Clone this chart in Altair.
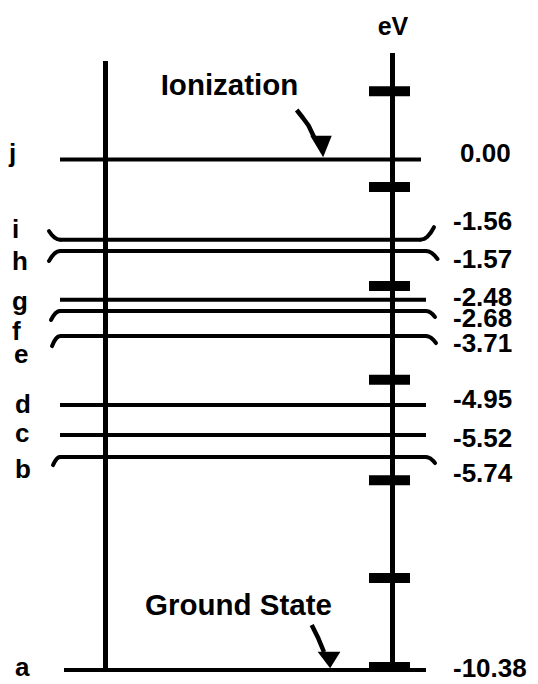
import altair as alt
import pandas as pd

# ---------------- data ----------------
levels = ["a", "b", "c", "d", "e", "f", "g", "h", "i", "j"]
energies_ev = [-10.38, -5.74, -5.52, -4.95, -3.71, -2.68, -2.48, -1.57, -1.56, 0.00]
# vertical placement of each level in the schematic diagram (eV-like diagram units)
level_height = [-10.38, -6.05, -5.60, -4.99, -3.59, -3.08, -2.85, -1.86, -1.63, 0.00]
# heights of the tick bars on the eV axis (diagram units)
tick_height = [1.39, -0.56, -2.57, -4.48, -6.52, -8.51, -10.32]
annotations = ["Ionization", "Ground State", "eV"]

# ---------------- layout ----------------
W, H = 522, 676
PX = 49.18          # pixels per diagram unit
ZERO_Y = 159.5      # page y of the 0.00 level


def units(page_y):
    return (ZERO_Y - page_y) / PX


LINE_X0 = {"a": 64}
LINE_X1 = {"j": 421, "i": 421}
VALUE_X = {"j": 460}
LETTER_X = {"j": 9, "i": 12, "h": 12, "g": 12, "f": 12, "e": 14}
VALUE_DY = {"j": 2.5, "i": -9.5, "h": 17, "g": 6.5, "f": 16, "e": 16,
            "d": 3, "c": 12, "b": 25, "a": 7}
LETTER_DY = {"j": 2.5, "i": -1.5, "h": 19, "g": 10.5, "f": 29, "e": 27,
             "d": 8, "c": 7, "b": 21, "a": 6.5}
BRACKETS = {("i", "L"): (-11, -8.5), ("i", "R"): (13, -12.5),
            ("h", "L"): (-11, 10), ("h", "R"): (11.5, 8),
            ("f", "L"): (-9, 9), ("f", "R"): (9, 6),
            ("e", "L"): (-8, 10), ("e", "R"): (10, 7),
            ("b", "L"): (-7, 8), ("b", "R"): (9, 6)}

FONT = "Liberation Sans"

xs = alt.Scale(domain=[8, 8 + W], nice=False, zero=False)
ys = alt.Scale(domain=[units(8 + H), units(8)], nice=False, zero=False)

lev = pd.DataFrame({"level": levels, "energy": energies_ev, "h": level_height})
lev["x0"] = [LINE_X0.get(l, 60) for l in levels]
lev["x1"] = [LINE_X1.get(l, 426) for l in levels]
lev["label"] = [f"{e:.2f}" for e in energies_ev]
lev["vx"] = [VALUE_X.get(l, 453) for l in levels]
lev["vy"] = [h - VALUE_DY[l] / PX for l, h in zip(levels, level_height)]
lev["lx"] = [LETTER_X.get(l, 15) for l in levels]
lev["ly"] = [h - LETTER_DY[l] / PX for l, h in zip(levels, level_height)]

rows = []
for (lv, side), (dx, dy) in BRACKETS.items():
    i = levels.index(lv)
    ax = lev.loc[i, "x0"] if side == "L" else lev.loc[i, "x1"]
    hh = level_height[i]
    for k, t in enumerate([0, 0.25, 0.5, 0.75, 1.0]):
        rows.append({"id": lv + side, "k": k, "x": ax + dx * t, "y": hh - dy * t * t / PX})
br = pd.DataFrame(rows)

base_x = lambda f: alt.X(f, type="quantitative", scale=xs, axis=None)
base_y = lambda f: alt.Y(f, type="quantitative", scale=ys, axis=None)

level_lines = alt.Chart(lev).mark_rule(strokeWidth=4, color="black").encode(
    x=base_x("x0"), x2="x1", y=base_y("h"))

brackets = alt.Chart(br).mark_line(strokeWidth=4, color="black", strokeCap="round",
                                   strokeJoin="round").encode(
    x=base_x("x"), y=base_y("y"), detail="id:N", order="k:Q")

frame = pd.DataFrame({"x": [105.5, 392.5], "top": [units(61), units(53)],
                      "bottom": [level_height[0], level_height[0]]})
verticals = alt.Chart(frame).mark_rule(strokeWidth=5, color="black").encode(
    x=base_x("x"), y=base_y("top"), y2="bottom")

tk = pd.DataFrame({"h": tick_height})
tk["x0"] = 369
tk["x1"] = 410
ticks = alt.Chart(tk).mark_rule(strokeWidth=10, color="black").encode(
    x=base_x("x0"), x2="x1", y=base_y("h"))

value_text = alt.Chart(lev).mark_text(font=FONT, fontWeight="bold", fontSize=26,
                                      align="left", baseline="alphabetic",
                                      color="black").encode(
    x=base_x("vx"), y=base_y("vy"), text="label:N")

letter_text = alt.Chart(lev).mark_text(font=FONT, fontWeight="bold", fontSize=26,
                                       align="left", baseline="alphabetic",
                                       color="black").encode(
    x=base_x("lx"), y=base_y("ly"), text="level:N")

ann = pd.DataFrame({"text": annotations, "x": [229.5, 238.5, 393],
                    "y": [units(95), units(615), units(35)], "size": [29.5, 29.5, 25]})
ann_text = alt.Chart(ann).mark_text(font=FONT, fontWeight="bold", align="center",
                                    baseline="alphabetic", color="black").encode(
    x=base_x("x"), y=base_y("y"), text="text:N",
    size=alt.Size("size:Q", scale=None, legend=None))

shafts = pd.DataFrame({
    "id": ["ion"] * 4 + ["gnd"] * 3,
    "k": [0, 1, 2, 3, 0, 1, 2],
    "x": [296.7, 303, 308.5, 314, 311.7, 318.3, 324],
    "y": [units(p) for p in [110, 118, 125.5, 137, 625, 638.3, 652]],
})
arrow_shafts = alt.Chart(shafts).mark_line(strokeWidth=4.5, color="black",
                                           strokeJoin="round").encode(
    x=base_x("x"), y=base_y("y"), detail="id:N", order="k:Q")

head1 = alt.Chart(pd.DataFrame({"x": [321], "y": [units(146.5)]})).mark_point(
    shape="M -1 -1 L 1 -1 L 0.2 1 Z", size=460, filled=True, color="black",
    opacity=1, strokeWidth=0).encode(x=base_x("x"), y=base_y("y"))
head2 = alt.Chart(pd.DataFrame({"x": [329], "y": [units(660)]})).mark_point(
    shape="M -1 -0.73 L 1 -0.73 L 0.1 0.73 Z", size=520, filled=True, color="black",
    opacity=1, strokeWidth=0).encode(x=base_x("x"), y=base_y("y"))

chart = alt.layer(
    level_lines, brackets, verticals, ticks, value_text, letter_text, ann_text,
    arrow_shafts, head1, head2
).properties(
    width=W, height=H, autosize=alt.AutoSizeParams(type="none"), padding=0,
    background="white"
).configure_view(stroke=None)

chart.save("out.html", embed_options={"renderer": "svg", "actions": False})
